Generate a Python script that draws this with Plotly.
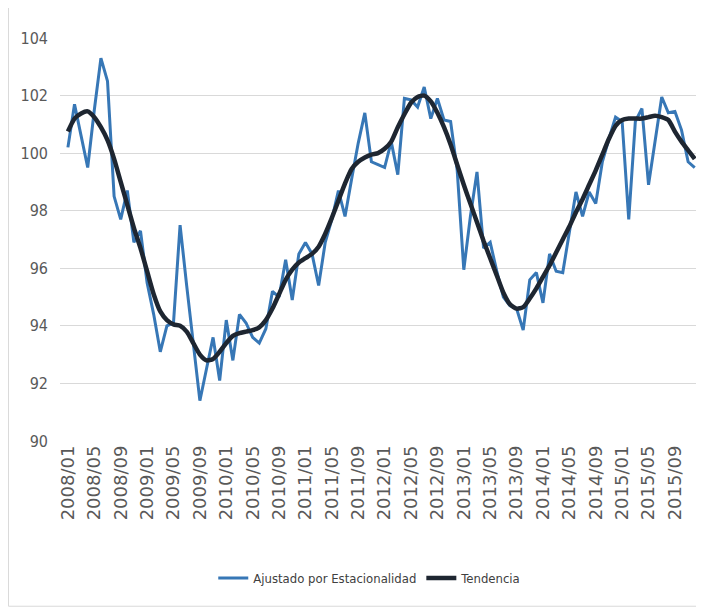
import plotly.graph_objects as go

months = [f"{y}/{m:02d}" for y in range(2008, 2016) for m in range(1, 13)]

ajustado = [
    100.2, 101.7, 100.6, 99.5, 101.5, 103.3, 102.5, 98.5, 97.7, 98.7, 96.9, 97.3,
    95.5, 94.4, 93.1, 94.0, 94.1, 97.5, 95.4, 93.4, 91.4, 92.5, 93.6, 92.1,
    94.2, 92.8, 94.4, 94.1, 93.6, 93.4, 93.9, 95.2, 95.0, 96.3, 94.9, 96.5,
    96.9, 96.5, 95.4, 96.9, 97.7, 98.7, 97.8, 99.1, 100.35, 101.4, 99.7, 99.6,
    99.5, 100.4, 99.25, 101.9, 101.85, 101.6, 102.3, 101.2, 101.9, 101.15, 101.1, 99.4,
    95.95, 97.8, 99.35, 96.7, 96.9, 95.9, 95.0, 94.7, 94.6, 93.85, 95.6, 95.85,
    94.8, 96.5, 95.9, 95.85, 97.2, 98.65, 97.8, 98.65, 98.25, 99.7, 100.5, 101.25,
    101.1, 97.7, 101.1, 101.55, 98.9, 100.4, 101.95, 101.4, 101.45, 100.8, 99.7, 99.5,
]

tendencia = [
    100.75, 101.2, 101.38, 101.45, 101.25, 100.9, 100.45, 99.8, 99.0, 98.2, 97.4, 96.7,
    95.9, 95.1, 94.5, 94.2, 94.05, 94.0, 93.8, 93.4, 93.0, 92.8, 92.85, 93.1,
    93.4, 93.65, 93.75, 93.8, 93.85, 93.95, 94.2, 94.6, 95.1, 95.6, 95.95, 96.2,
    96.35, 96.5, 96.75, 97.2, 97.75, 98.35, 98.95, 99.45, 99.7, 99.85, 99.95, 100.0,
    100.15, 100.4, 100.9, 101.35, 101.75, 101.95, 102.0, 101.8, 101.4, 100.9, 100.3, 99.6,
    98.9, 98.25, 97.6, 96.95, 96.35, 95.75, 95.15, 94.75, 94.6, 94.65, 94.95, 95.3,
    95.7, 96.1, 96.55, 97.0, 97.45, 97.95, 98.4, 98.9, 99.4, 99.95, 100.5, 100.95,
    101.15, 101.2, 101.2, 101.2, 101.25, 101.3, 101.25, 101.15, 100.75, 100.4, 100.1, 99.8,
]

tick_labels = months[::4]
y_ticks = [90, 92, 94, 96, 98, 100, 102, 104]

narrow = "Liberation Sans Narrow, DejaVu Sans Condensed, Arial Narrow, sans-serif"

fig = go.Figure()
fig.add_trace(go.Scatter(
    x=months, y=ajustado, mode="lines", name="Ajustado por Estacionalidad",
    line=dict(color="#3777B6", width=3),
))
fig.add_trace(go.Scatter(
    x=months, y=tendencia, mode="lines", name="Tendencia",
    line=dict(color="#1E2631", width=4.5, shape="spline", smoothing=0.6),
))

border = dict(color="#D9D9D9", width=1)
fig.update_layout(
    width=696, height=604,
    margin=dict(l=52, r=4, t=30, b=171),
    paper_bgcolor="white", plot_bgcolor="white",
    font=dict(family=narrow, color="#595959"),
    showlegend=True,
    legend=dict(orientation="h", x=0.484, xanchor="center", y=-0.34, yanchor="middle",
                font=dict(size=13, color="#404040", family=narrow), itemwidth=30),
    shapes=[
        dict(type="line", xref="paper", yref="paper", x0=-0.0805, x1=-0.0805,
             y0=-0.41, y1=1.075, line=border, layer="below"),
        dict(type="line", xref="paper", yref="paper", x0=-0.0805, x1=1.0045,
             y0=-0.41, y1=-0.41, line=border, layer="below"),
    ],
)
fig.update_xaxes(
    type="category", range=[-1.2, 95.8],
    tickmode="array", tickvals=tick_labels, ticktext=tick_labels,
    tickangle=-90, tickfont=dict(size=18, color="#595959", family="DejaVu Sans"),
    showgrid=False, showline=False, ticks="", zeroline=False,
)
fig.update_yaxes(
    range=[90, 104], tickvals=y_ticks,
    tickfont=dict(size=16, color="#595959", family=narrow),
    showgrid=True, gridcolor="#D9D9D9", gridwidth=1,
    zeroline=False, showline=False, ticks="", ticklabelstandoff=11,
)

fig.write_html("out.html")
